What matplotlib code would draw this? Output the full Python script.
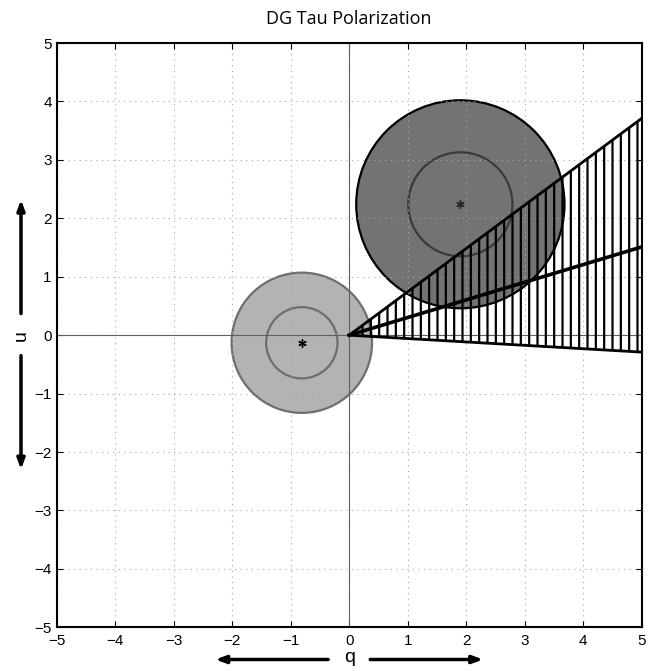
import numpy as np
import matplotlib
matplotlib.use('Agg')
import matplotlib.pyplot as plt
from matplotlib.patches import Circle, Polygon

plt.rcParams['font.family'] = ['Liberation Sans', 'DejaVu Sans']
plt.rcParams['hatch.linewidth'] = 1.6

# measured values (q, u)
small_center = (-0.81, -0.13)
small_radii = [1.20, 0.61]
big_center = (1.90, 2.24)
big_radii = [1.78, 0.89]

# polarization wedge: rays from origin to q = 5
wedge_q = 5.0
wedge_u_upper = 3.71
wedge_u_mid = 1.51
wedge_u_lower = -0.29

ticks = list(range(-5, 6))

fig = plt.figure(figsize=(6.54, 6.71), dpi=100)
ax = fig.add_axes([0.0867, 0.0651, 0.8945, 0.8708])

ax.set_xlim(-5, 5)
ax.set_ylim(-5, 5)
ax.set_xticks(ticks)
ax.set_yticks(ticks)
ax.set_axisbelow(False)
ax.grid(True, linestyle=(0, (1, 4)), color='#a8a8a8', linewidth=0.8)
ax.axhline(0, color='#606060', linewidth=0.8, zorder=3)
ax.axvline(0, color='#606060', linewidth=0.8, zorder=3)

# small (light) circle
ax.add_patch(Circle(small_center, small_radii[0], facecolor='#b3b3b3',
                    edgecolor='#6e6e6e', linewidth=1.6, zorder=2))
ax.add_patch(Circle(small_center, small_radii[1], facecolor='none',
                    edgecolor='#6e6e6e', linewidth=1.6, zorder=2))
# big (dark) circle
ax.add_patch(Circle(big_center, big_radii[0], facecolor='#737373',
                    edgecolor='black', linewidth=1.6, zorder=2))
ax.add_patch(Circle(big_center, big_radii[1], facecolor='none',
                    edgecolor='#3a3a3a', linewidth=1.6, zorder=2))

ax.plot(*small_center, marker=(6, 2, 0), color='black', markersize=6,
        markeredgewidth=1.0, zorder=3.5)
ax.plot(*big_center, marker=(6, 2, 0), color='#222222', markersize=6,
        markeredgewidth=1.0, zorder=3.5)

# hatched wedge
wedge = Polygon([(0, 0), (wedge_q, wedge_u_upper), (wedge_q, wedge_u_lower)],
                closed=True, facecolor='none', edgecolor='black',
                linewidth=0, hatch='||', zorder=4)
ax.add_patch(wedge)
ax.plot([0, wedge_q], [0, wedge_u_upper], color='black', linewidth=2.0, zorder=5)
ax.plot([0, wedge_q], [0, wedge_u_lower], color='black', linewidth=2.0, zorder=5)
ax.plot([0, wedge_q], [0, wedge_u_mid], color='black', linewidth=2.6, zorder=5)

ax.tick_params(direction='in', top=True, right=True, length=4.5, width=0.8,
               labelsize=11, colors='black')
ax.tick_params(axis='y', pad=3.5)
ax.tick_params(axis='x', pad=5)
for s in ax.spines.values():
    s.set_linewidth(1.5)
    s.set_zorder(6)

ax.set_title('DG Tau Polarization', fontsize=13, family=['Open Sans', 'DejaVu Sans'], pad=14)

# axis labels with arrows
arrow = dict(arrowstyle='-|>,head_length=0.6,head_width=0.22', color='black', lw=2.5,
             shrinkA=0, shrinkB=0)
yq = 11.5 / 671
ax.annotate('', xy=(-2.29, yq), xytext=(-0.36, yq),
            xycoords=('data', 'figure fraction'), arrowprops=arrow)
ax.annotate('', xy=(2.29, yq), xytext=(0.36, yq),
            xycoords=('data', 'figure fraction'), arrowprops=arrow)
ax.annotate('q', xy=(0, 13 / 671), xycoords=('data', 'figure fraction'),
            ha='center', va='center', fontsize=14)

xu = 21 / 654
ax.annotate('', xy=(xu, 2.32), xytext=(xu, 0.37),
            xycoords=('figure fraction', 'data'), arrowprops=arrow)
ax.annotate('', xy=(xu, -2.3), xytext=(xu, -0.35),
            xycoords=('figure fraction', 'data'), arrowprops=arrow)
ax.annotate('u', xy=(xu, 0), xycoords=('figure fraction', 'data'),
            ha='center', va='center', fontsize=14, rotation=90)

fig.savefig('out.png', dpi=100)
